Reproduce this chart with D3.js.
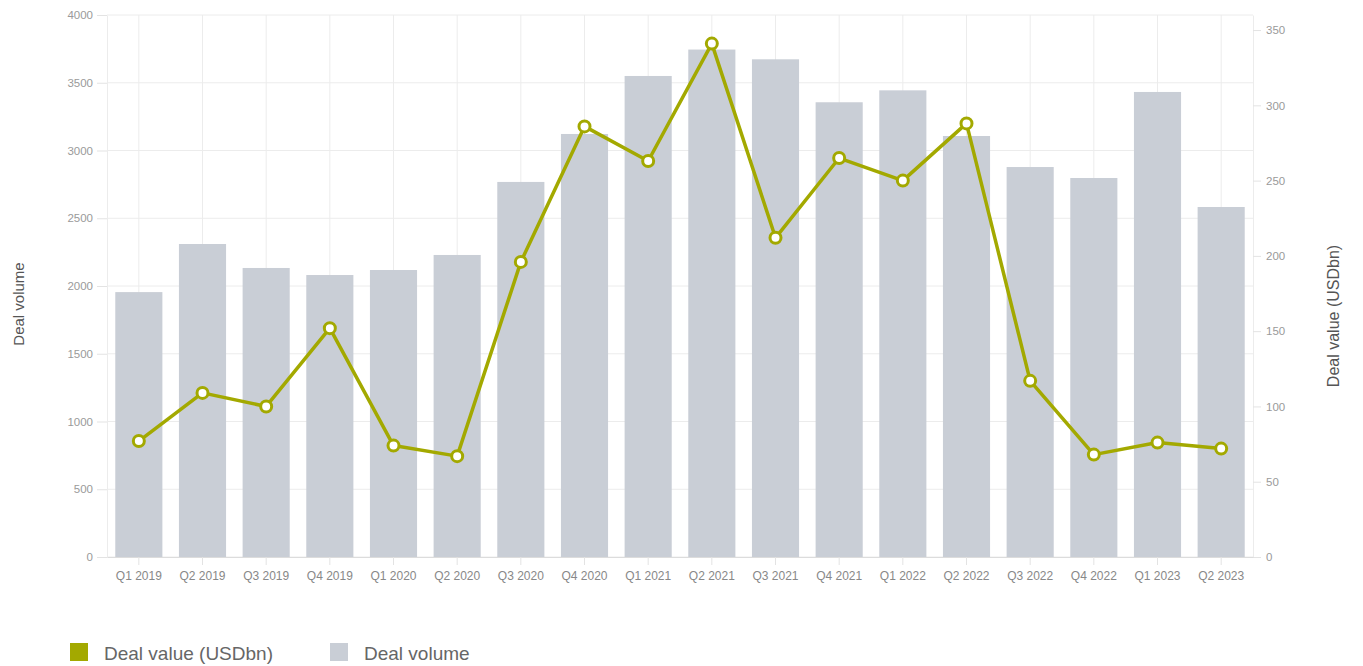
<!DOCTYPE html>
<html>
<head>
<meta charset="utf-8">
<script src="https://cdn.jsdelivr.net/npm/d3@7"></script>
<style>
  body { margin: 0; background: #fff; }
  svg { display: block; font-family: "Liberation Sans", Arial, sans-serif; }
</style>
</head>
<body>
<svg></svg>
<script>
const width = 1363;
const height = 666;

const quarters = ['Q1 2019', 'Q2 2019', 'Q3 2019', 'Q4 2019', 'Q1 2020', 'Q2 2020', 'Q3 2020', 'Q4 2020',
  'Q1 2021', 'Q2 2021', 'Q3 2021', 'Q4 2021', 'Q1 2022', 'Q2 2022', 'Q3 2022', 'Q4 2022', 'Q1 2023', 'Q2 2023'];
const dealVolume = [1955, 2310, 2133, 2081, 2118, 2229, 2768, 3122, 3550, 3745, 3673, 3356, 3444, 3107, 2878, 2797, 3432, 2583];
const dealValue = [77, 109, 100, 152, 74, 67, 196, 286, 263, 341, 212, 265, 250, 288, 117, 68, 76, 72];
const leftTicks = [0, 500, 1000, 1500, 2000, 2500, 3000, 3500, 4000];
const rightTicks = [0, 50, 100, 150, 200, 250, 300, 350];

const plotLeft = 107, plotRight = 1253, plotTop = 15, plotBottom = 557;
const lineColor = '#a3a900';
const barColor = '#c9ced6';
const gridColor = '#ececec';

const svg = d3.select('svg').attr('width', width).attr('height', height);

const x = d3.scaleBand().domain(quarters).range([plotLeft, plotRight]).paddingInner(0.26).paddingOuter(0.13);
const xc = d => x(d) + x.bandwidth() / 2;
const yL = d3.scaleLinear().domain([0, 4000]).range([plotBottom, plotTop]);
const yR = d3.scaleLinear().domain([0, 360]).range([plotBottom, plotTop]);

// grid
svg.append('g').selectAll('line').data(leftTicks).join('line')
  .attr('x1', plotLeft).attr('x2', plotRight)
  .attr('y1', d => yL(d)).attr('y2', d => yL(d))
  .attr('stroke', gridColor);
svg.append('g').selectAll('line').data(quarters).join('line')
  .attr('x1', xc).attr('x2', xc)
  .attr('y1', plotTop).attr('y2', plotBottom)
  .attr('stroke', gridColor);

// bars
svg.append('g').selectAll('rect').data(dealVolume).join('rect')
  .attr('x', (d, i) => x(quarters[i]))
  .attr('y', d => yL(d))
  .attr('width', x.bandwidth())
  .attr('height', d => yL(0) - yL(d))
  .attr('fill', barColor);

// axes
const styleAxis = g => {
  g.select('.domain').attr('stroke', gridColor);
  g.selectAll('.tick line').attr('stroke', '#e3e3e3');
  g.selectAll('.tick text').attr('fill', '#9a9a9a').attr('font-size', 11.5);
};

svg.append('g')
  .attr('transform', `translate(${plotLeft},0)`)
  .call(d3.axisLeft(yL).tickValues(leftTicks).tickFormat(d3.format('d')).tickSize(10).tickPadding(4).tickSizeOuter(0))
  .call(styleAxis);

svg.append('g')
  .attr('transform', `translate(${plotRight},0)`)
  .call(d3.axisRight(yR).tickValues(rightTicks).tickSize(8).tickPadding(5).tickSizeOuter(0))
  .call(styleAxis);

svg.append('g')
  .attr('transform', `translate(0,${plotBottom})`)
  .call(d3.axisBottom(x).tickSize(8).tickPadding(6).tickSizeOuter(0))
  .call(styleAxis)
  .call(g => g.select('.domain').attr('stroke', '#dcdcdc'))
  .call(g => g.selectAll('.tick text').attr('font-size', 12).attr('fill', '#888'));

// axis titles
svg.append('text')
  .attr('transform', 'translate(24,304) rotate(-90)')
  .attr('text-anchor', 'middle')
  .attr('fill', '#555').attr('font-size', 15)
  .text('Deal volume');
svg.append('text')
  .attr('transform', 'translate(1339,316) rotate(-90)')
  .attr('text-anchor', 'middle')
  .attr('fill', '#555').attr('font-size', 16)
  .text('Deal value (USDbn)');

// line
const line = d3.line().x((d, i) => xc(quarters[i])).y(d => yR(d));
svg.append('path')
  .datum(dealValue)
  .attr('d', line)
  .attr('fill', 'none')
  .attr('stroke', lineColor)
  .attr('stroke-width', 3.5)
  .attr('stroke-linejoin', 'round');

svg.append('g').selectAll('circle').data(dealValue).join('circle')
  .attr('cx', (d, i) => xc(quarters[i]))
  .attr('cy', d => yR(d))
  .attr('r', 5.5)
  .attr('fill', '#fff')
  .attr('stroke', lineColor)
  .attr('stroke-width', 3);

// legend
const legend = [
  { label: 'Deal value (USDbn)', color: lineColor, x: 70 },
  { label: 'Deal volume', color: barColor, x: 330 }
];
const lg = svg.append('g').selectAll('g').data(legend).join('g')
  .attr('transform', d => `translate(${d.x},643)`);
lg.append('rect').attr('width', 18).attr('height', 18).attr('fill', d => d.color);
lg.append('text')
  .attr('x', 34).attr('y', 17)
  .attr('fill', '#666').attr('font-size', 19)
  .text(d => d.label);
</script>
</body>
</html>
